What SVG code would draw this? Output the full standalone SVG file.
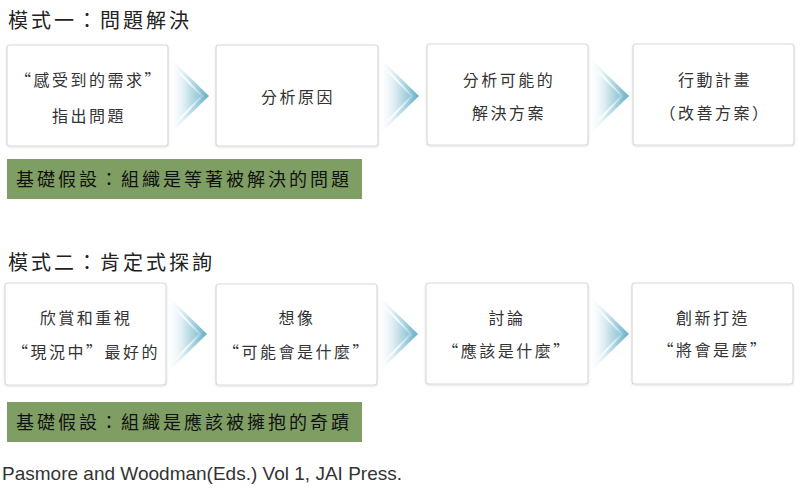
<svg xmlns="http://www.w3.org/2000/svg" width="800" height="491" viewBox="0 0 800 491">
<defs>
<linearGradient id="chev" x1="0" y1="0" x2="1" y2="0">
<stop offset="0" stop-color="#ffffff" stop-opacity="0"/>
<stop offset="0.4" stop-color="#dcedf3"/>
<stop offset="1" stop-color="#66afc6"/>
</linearGradient>
<linearGradient id="hl" x1="0" y1="0" x2="1" y2="0">
<stop offset="0" stop-color="#ffffff" stop-opacity="0"/>
<stop offset="0.5" stop-color="#ffffff" stop-opacity="0.9"/>
<stop offset="1" stop-color="#ffffff" stop-opacity="0.2"/>
</linearGradient>
<g id="arrow">
<polygon points="0,-40 41,0 0,40" fill="url(#chev)"/>
<polyline points="2,-33 34,0 2,33" fill="none" stroke="url(#hl)" stroke-width="2"/>
</g>
<filter id="sh" x="-5%" y="-5%" width="110%" height="115%">
<feDropShadow dx="0" dy="1" stdDeviation="1" flood-color="#000" flood-opacity="0.12"/>
</filter>
</defs>
<style>
.box{fill:#ffffff;stroke:#d9d9d9;stroke-width:1.2;filter:url(#sh)}
.t{font-family:"Noto Sans CJK TC","Noto Sans CJK SC",sans-serif;font-size:16px;fill:#333;text-anchor:middle;letter-spacing:2.5px}
.title{font-family:"Noto Sans CJK TC","Noto Sans CJK SC",sans-serif;font-size:20px;fill:#222;letter-spacing:3px}
.bar{fill:#7f9e63}
.bt{font-family:"Noto Sans CJK TC","Noto Sans CJK SC",sans-serif;font-size:18px;fill:#111;letter-spacing:3px}
.foot{font-family:"Liberation Sans",Arial,sans-serif;font-size:18.5px;fill:#333}
</style>
<rect width="800" height="491" fill="#ffffff"/>

<text class="title" x="8" y="28">模式一：問題解決</text>
<text class="title" x="8" y="270">模式二：肯定式探詢</text>

<g id="connectors">
<use href="#arrow" x="168" y="96"/>
<use href="#arrow" x="378" y="96"/>
<use href="#arrow" x="588" y="96"/>
<use href="#arrow" x="166" y="334"/>
<use href="#arrow" x="377" y="334"/>
<use href="#arrow" x="588" y="334"/>
</g>

<g id="n1">
<rect class="box" x="7" y="45" width="161" height="101" rx="3"/>
<text class="t" x="89" y="86">“感受到的需求”</text>
<text class="t" x="89" y="122">指出問題</text>
</g>
<g id="n2">
<rect class="box" x="216" y="45" width="162" height="101" rx="3"/>
<text class="t" x="298" y="103">分析原因</text>
</g>
<g id="n3">
<rect class="box" x="427" y="44" width="161" height="101" rx="3"/>
<text class="t" x="509" y="86">分析可能的</text>
<text class="t" x="509" y="119">解決方案</text>
</g>
<g id="n4">
<rect class="box" x="633" y="44" width="161" height="101" rx="3"/>
<text class="t" x="715" y="86">行動計畫</text>
<text class="t" x="715" y="119">（改善方案）</text>
</g>

<g id="a1">
<rect class="bar" x="7" y="159" width="355" height="40"/>
<text class="bt" x="16" y="186">基礎假設：組織是等著被解決的問題</text>
</g>

<g id="m1">
<rect class="box" x="5" y="283" width="161" height="102" rx="3"/>
<text class="t" x="86" y="324">欣賞和重視</text>
<text class="t" x="86" y="358">“現況中”最好的</text>
</g>
<g id="m2">
<rect class="box" x="216" y="284" width="161" height="101" rx="3"/>
<text class="t" x="297" y="324">想像</text>
<text class="t" x="297" y="358">“可能會是什麼”</text>
</g>
<g id="m3">
<rect class="box" x="426" y="283" width="162" height="101" rx="3"/>
<text class="t" x="507" y="324">討論</text>
<text class="t" x="507" y="357">“應該是什麼”</text>
</g>
<g id="m4">
<rect class="box" x="632" y="283" width="161" height="101" rx="3"/>
<text class="t" x="713" y="324">創新打造</text>
<text class="t" x="713" y="356">“將會是麼”</text>
</g>

<g id="a2">
<rect class="bar" x="7" y="402" width="355" height="40"/>
<text class="bt" x="16" y="429">基礎假設：組織是應該被擁抱的奇蹟</text>
</g>

<text class="foot" x="2" y="480" textLength="400" lengthAdjust="spacingAndGlyphs">Pasmore and Woodman(Eds.) Vol 1, JAI Press.</text>
</svg>
